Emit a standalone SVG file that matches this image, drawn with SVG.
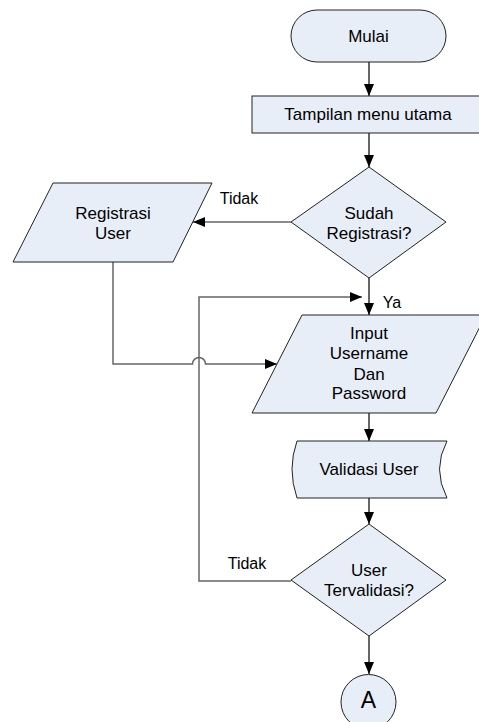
<svg xmlns="http://www.w3.org/2000/svg" width="479" height="722" viewBox="0 0 479 722">
<style>
.s{fill:#E8EEF7;stroke:#222;stroke-width:1}
.t{font-family:"Liberation Sans",Arial,sans-serif;font-size:17px;fill:#000;text-anchor:middle}
.l{font-size:16px}
.c{fill:none;stroke:#000;stroke-width:1.2}
.g{fill:none;stroke:#666;stroke-width:1.5}
</style>
<defs>
<marker id="ah" markerUnits="userSpaceOnUse" markerWidth="12" markerHeight="10" refX="12" refY="5" orient="auto">
<path d="M0,0 L12,5 L0,10 Z" fill="#000"/>
</marker>
</defs>
<rect width="479" height="722" fill="#fff"/>
<g id="connectors">
<line class="c" x1="369" y1="62" x2="369" y2="96" marker-end="url(#ah)"/>
<line class="c" x1="369" y1="133" x2="369" y2="167" marker-end="url(#ah)"/>
<line class="g" x1="291" y1="222" x2="193" y2="222" marker-end="url(#ah)"/>
<line class="c" x1="369" y1="278" x2="369" y2="315" marker-end="url(#ah)"/>
<path class="g" d="M113,262 V364 H192.5 A6.5,6.5 0 0 1 205.5,364 H277" marker-end="url(#ah)"/>
<path class="g" d="M291,581 H199 V297 H362" marker-end="url(#ah)"/>
<line class="c" x1="369" y1="413" x2="369" y2="441" marker-end="url(#ah)"/>
<line class="c" x1="369" y1="498" x2="369" y2="524" marker-end="url(#ah)"/>
<line class="c" x1="369" y1="636" x2="369" y2="674" marker-end="url(#ah)"/>
</g>
<g id="mulai">
<rect class="s" x="291" y="10" width="155" height="52" rx="26" ry="26"/>
<text class="t" x="368.5" y="42">Mulai</text>
</g>
<g id="menu">
<rect class="s" x="252" y="96" width="234" height="37"/>
<text class="t" x="368" y="120">Tampilan menu utama</text>
</g>
<g id="sudah">
<polygon class="s" points="369,167 446,222 369,278 291,222"/>
<text class="t" x="369" y="219">Sudah</text>
<text class="t" x="369" y="239">Registrasi?</text>
</g>
<g id="registrasi">
<polygon class="s" points="53,183 212,183 173,262 13,262"/>
<text class="t" x="113" y="219">Registrasi</text>
<text class="t" x="113" y="239">User</text>
</g>
<g id="input">
<polygon class="s" points="302,315 486,315 436,413 252,413"/>
<text class="t" x="369" y="339">Input</text>
<text class="t" x="369" y="359">Username</text>
<text class="t" x="369" y="380">Dan</text>
<text class="t" x="369" y="399">Password</text>
</g>
<g id="validasi">
<path class="s" d="M297,441 H447 Q432,469 447,498 H297 Q287,469 297,441 Z"/>
<text class="t" x="369" y="475">Validasi User</text>
</g>
<g id="tervalidasi">
<polygon class="s" points="369,524 446,580 369,636 291,580"/>
<text class="t" x="369" y="576">User</text>
<text class="t" x="369" y="596">Tervalidasi?</text>
</g>
<g id="a">
<circle class="s" cx="368.5" cy="702" r="27.5"/>
<text class="t" x="368.5" y="708" style="font-size:23px">A</text>
</g>
<g id="labels">
<text class="t l" x="239" y="204">Tidak</text>
<text class="t l" x="392" y="308">Ya</text>
<text class="t l" x="247" y="569">Tidak</text>
</g>
</svg>
